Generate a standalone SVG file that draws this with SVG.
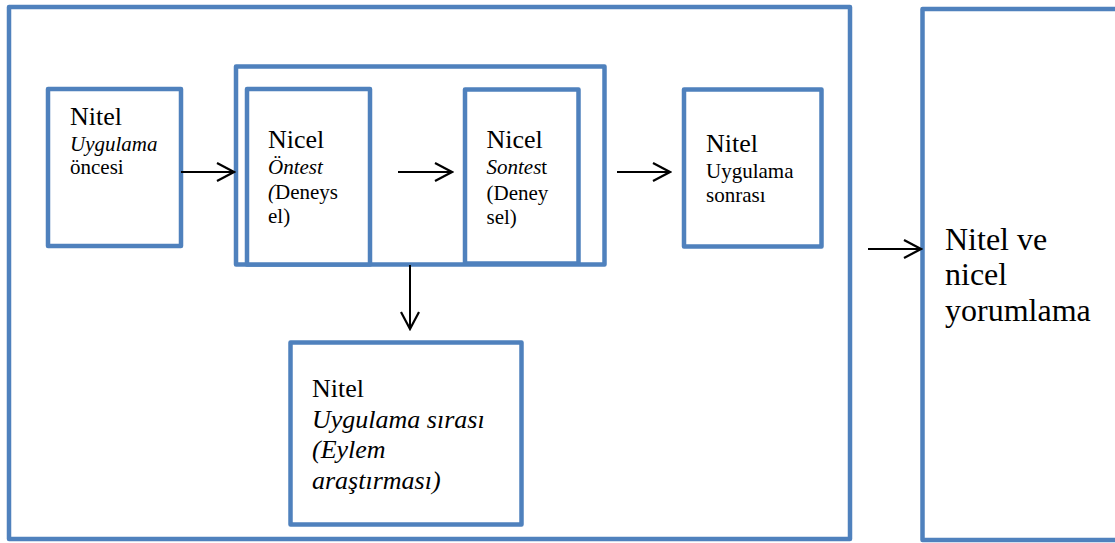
<svg xmlns="http://www.w3.org/2000/svg" width="1115" height="543" viewBox="0 0 1115 543">
  <style>
    .box { fill: none; stroke: #4F81BD; stroke-width: 4.5; stroke-linejoin: round; }
    .fillbox { fill: #FFFFFF; stroke: #4F81BD; stroke-width: 4.5; stroke-linejoin: round; }
    .conn { fill: none; stroke: #000000; stroke-width: 2; }
    .t { font-family: "Times New Roman", "Liberation Serif", Tinos, "Noto Serif", "DejaVu Serif", serif; fill: #000000; }
    .big { font-size: 26px; }
    .small { font-size: 21px; }
    .huge { font-size: 32px; }
    .it { font-style: italic; }
  </style>
  <defs>
    <marker id="arrow" viewBox="0 0 20 20" refX="18" refY="10" markerWidth="20" markerHeight="20" markerUnits="userSpaceOnUse" orient="auto">
      <path d="M1,1 L18,10 L1,19" fill="none" stroke="#000000" stroke-width="2.2"/>
    </marker>
  </defs>

  <rect width="1115" height="543" fill="#FFFFFF"/>

  <!-- outer frame holding the application phase -->
  <g id="frame">
    <rect class="box" x="9" y="7" width="841" height="532"/>
  </g>

  <!-- pre-application qualitative step -->
  <g id="nitel-oncesi">
    <rect class="fillbox" x="48" y="89" width="133" height="157"/>
    <text class="t big" x="70" y="124.5">Nitel</text>
    <text class="t small it" x="70" y="151">Uygulama</text>
    <text class="t small" x="70" y="174">öncesi</text>
  </g>

  <!-- container around the two quantitative tests -->
  <g id="nicel-grup">
    <rect class="box" x="236" y="66.5" width="368.5" height="198"/>
  </g>

  <g id="nicel-ontest">
    <rect class="fillbox" x="247" y="89" width="123" height="175.5"/>
    <text class="t big" x="268" y="147.5">Nicel</text>
    <text class="t small it" x="268" y="173.5">Öntest</text>
    <text class="t small" x="268" y="198.5"><tspan class="it">(</tspan>Deneys</text>
    <text class="t small" x="268" y="222.5">el)</text>
  </g>

  <g id="nicel-sontest">
    <rect class="fillbox" x="465" y="89.5" width="113.5" height="174"/>
    <text class="t big" x="486.5" y="147.5">Nicel</text>
    <text class="t small" x="486.5" y="173.5"><tspan class="it">Sontes</tspan>t</text>
    <text class="t small" x="486.5" y="199.5">(Deney</text>
    <text class="t small" x="486.5" y="223.5">sel)</text>
  </g>

  <!-- post-application qualitative step -->
  <g id="nitel-sonrasi">
    <rect class="fillbox" x="684" y="89.5" width="137.5" height="157"/>
    <text class="t big" x="706" y="151.5">Nitel</text>
    <text class="t small" x="706" y="178">Uygulama</text>
    <text class="t small" x="706" y="201.5">sonrası</text>
  </g>

  <!-- during-application action research -->
  <g id="nitel-sirasi">
    <rect class="fillbox" x="290.5" y="342.5" width="231" height="182"/>
    <text class="t big" x="312" y="396.5">Nitel</text>
    <text class="t big it" x="312" y="427.5">Uygulama sırası</text>
    <text class="t big it" x="312" y="458">(Eylem</text>
    <text class="t big it" x="312" y="488.5">araştırması)</text>
  </g>

  <!-- final interpretation -->
  <g id="yorumlama">
    <rect class="fillbox" x="922.5" y="9" width="200" height="531"/>
    <text class="t huge" x="945" y="249.5">Nitel ve</text>
    <text class="t huge" x="945" y="285">nicel</text>
    <text class="t huge" x="945" y="320.5">yorumlama</text>
  </g>

  <g id="connectors">
    <line class="conn" x1="181" y1="172" x2="234" y2="172" marker-end="url(#arrow)"/>
    <line class="conn" x1="398" y1="172" x2="452" y2="172" marker-end="url(#arrow)"/>
    <line class="conn" x1="617" y1="172" x2="670" y2="172" marker-end="url(#arrow)"/>
    <line class="conn" x1="410" y1="265" x2="410" y2="329" marker-end="url(#arrow)"/>
    <line class="conn" x1="868" y1="249" x2="921" y2="249" marker-end="url(#arrow)"/>
  </g>
</svg>
